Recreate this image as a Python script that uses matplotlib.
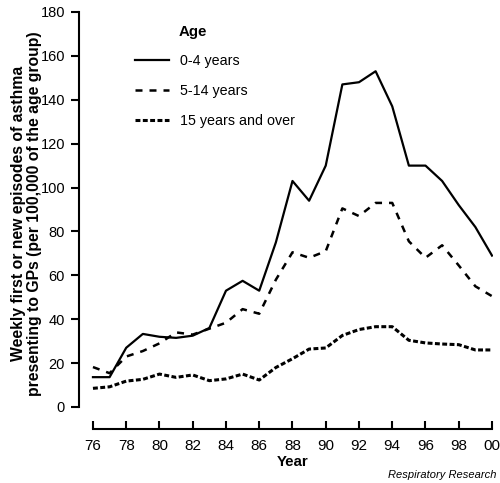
import matplotlib
matplotlib.use('Agg')
import matplotlib.pyplot as plt

years = [76, 77, 78, 79, 80, 81, 82, 83, 84, 85, 86, 87, 88,
         89, 90, 91, 92, 93, 94, 95, 96, 97, 98, 99, 100]
age_0_4 = [13.6, 13.6, 27, 33.3, 32, 31.5, 32.5, 36, 53, 57.5, 53, 75, 103,
           94, 110, 147, 148, 153, 137, 110, 110, 103, 92, 82, 69]
age_5_14 = [18.2, 15.4, 23, 25.5, 29, 34, 33, 35.7, 38.4, 44.6, 42.5, 58, 70.5,
            68, 71, 90.5, 87, 93, 93, 75.5, 68, 73.7, 64.5, 55, 50.5]
age_15_plus = [8.5, 9.2, 11.8, 12.6, 15, 13.5, 14.6, 12, 12.8, 15, 12.3, 18, 22,
               26.4, 26.9, 32.6, 35.3, 36.6, 36.6, 30.4, 29.2, 28.7, 28.4, 26, 26]
xticks = [76, 78, 80, 82, 84, 86, 88, 90, 92, 94, 96, 98, 100]
xtick_labels = ['76', '78', '80', '82', '84', '86', '88', '90', '92', '94', '96', '98', '00']
yticks = [0, 20, 40, 60, 80, 100, 120, 140, 160, 180]
series_labels = ['0-4 years', '5-14 years', '15 years and over']

plt.rcParams['font.family'] = ['Liberation Sans', 'DejaVu Sans']
narrow = ['Liberation Sans Narrow', 'Liberation Sans']

fig = plt.figure(figsize=(5, 4.83), dpi=100)
ax = fig.add_axes([79 / 500, 76 / 483, 414 / 500, 395 / 483])

ax.plot(years, age_0_4, color='black', linewidth=1.6, label=series_labels[0])
ax.plot(years, age_5_14, color='black', linewidth=1.8, dashes=(2.8, 2.8),
        label=series_labels[1])
ax.plot(years, age_15_plus, color='black', linewidth=2.2, dashes=(1.6, 0.8),
        label=series_labels[2])

ax.set_xlim(75.16, 100.06)
ax.set_ylim(0, 180)

for s in ['top', 'right']:
    ax.spines[s].set_visible(False)
ax.spines['left'].set_linewidth(1.5)
ax.spines['bottom'].set_linewidth(1.5)
ax.spines['bottom'].set_position(('outward', 16))
ax.spines['bottom'].set_bounds(76, 100)

ax.set_xticks(xticks)
ax.set_xticklabels(xtick_labels, family=narrow, fontsize=11)
ax.set_yticks(yticks)
ax.set_yticklabels([str(v) for v in yticks], family=narrow, fontsize=10.5)
ax.tick_params(axis='x', direction='in', length=6, width=1.5, pad=7)
ax.tick_params(axis='y', direction='out', length=6, width=1.5, pad=4)

ax.set_ylabel('Weekly first or new episodes of asthma\n'
              'presenting to GPs (per 100,000 of the age group)',
              fontsize=11.3, fontweight='bold', linespacing=1.05)
ax.yaxis.set_label_coords(-0.09, 0.49)
ax.set_xlabel('Year', fontsize=10.8, fontweight='bold')
ax.xaxis.set_label_coords((293 - 79) / 414, -0.122)

leg = ax.legend(loc='upper left', bbox_to_anchor=(0.135, 0.893), frameon=False,
                fontsize=10.3, handlelength=2.35, handletextpad=0.8,
                labelspacing=1.12, borderpad=0, borderaxespad=0)
ax.text((179 - 79) / 414, 0.95, 'Age', transform=ax.transAxes,
        fontsize=10.8, fontweight='bold', va='center', ha='left')

fig.text(496 / 500, 1 - 478 / 483, 'Respiratory Research', fontsize=8,
         style='italic', ha='right', va='baseline')

fig.savefig('out.png', dpi=100)
